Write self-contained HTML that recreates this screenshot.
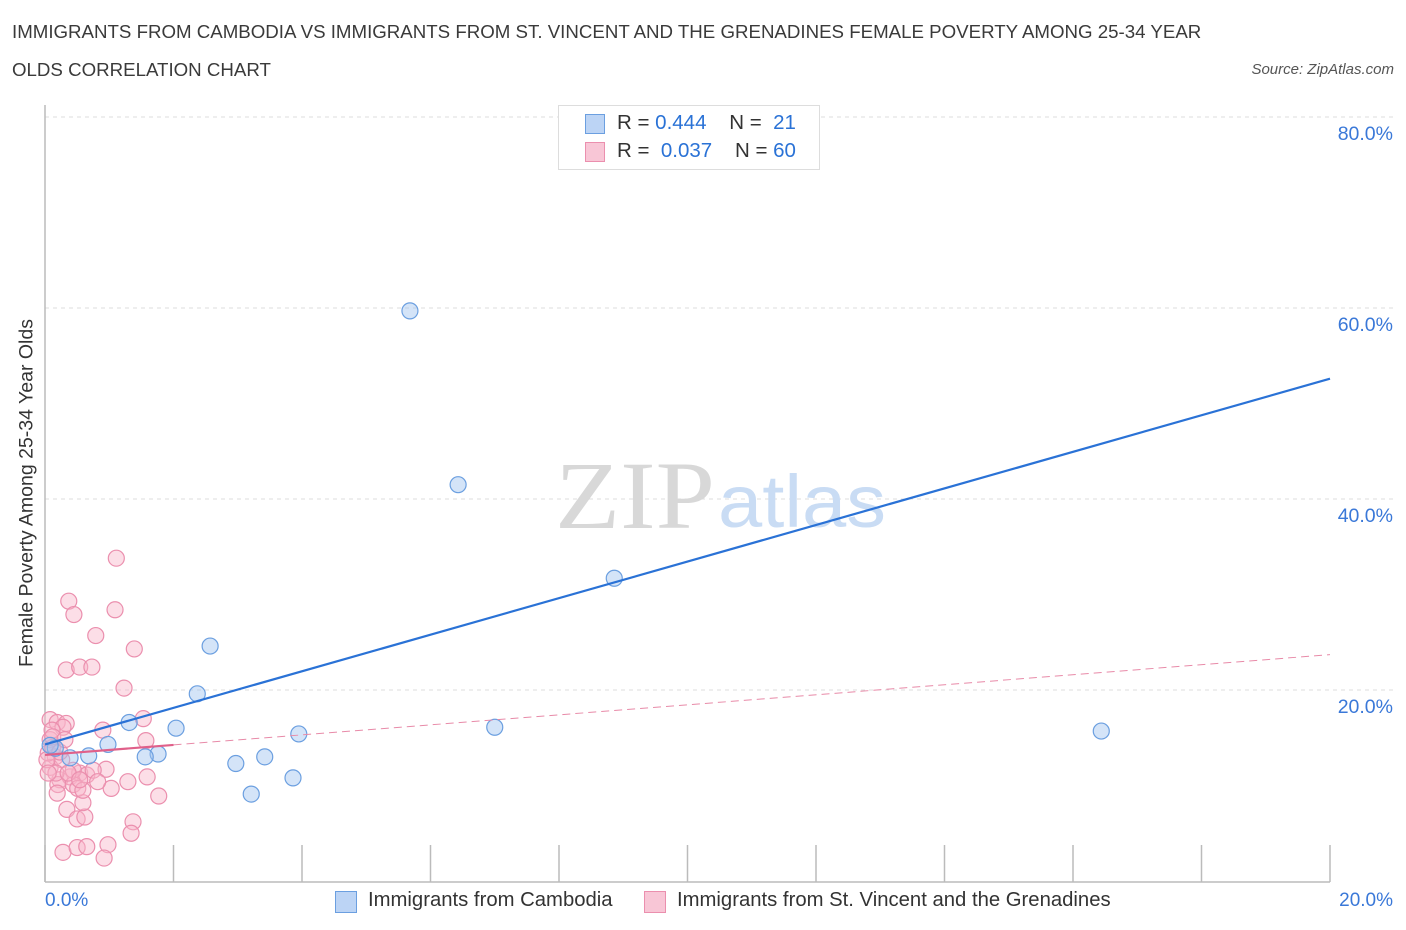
<!DOCTYPE html>
<html><head><meta charset="utf-8"><style>
body{margin:0;background:#fff;font-family:"Liberation Sans",sans-serif;}
.t{position:absolute;color:#3a3a3a;font-size:18.7px;white-space:nowrap;}
</style></head><body>
<div style="position:relative;width:1406px;height:930px;overflow:hidden">
<div class="t" style="left:12px;top:21px">IMMIGRANTS FROM CAMBODIA VS IMMIGRANTS FROM ST. VINCENT AND THE GRENADINES FEMALE POVERTY AMONG 25-34 YEAR</div>
<div class="t" style="left:12px;top:59px">OLDS CORRELATION CHART</div>
<div style="position:absolute;right:12px;top:61px;font-size:15px;font-style:italic;color:#555">Source: ZipAtlas.com</div>
<svg id="plot" width="1406" height="930" style="position:absolute;left:0;top:0"></svg>
</div>
<script>
const cambodiaX=[5.68,6.43,8.86,2.57,2.37,1.31,2.04,3.95,7.00,16.44,0.98,0.68,1.76,1.56,0.39,2.97,3.42,3.86,3.21,0.16,0.08];
const cambodiaY=[59.7,41.5,31.7,24.6,19.6,16.6,16.0,15.4,16.1,15.7,14.3,13.1,13.3,13.0,12.9,12.3,13.0,10.8,9.1,13.9,14.2];
const vincentX=[1.11,0.37,0.45,1.09,0.79,1.39,0.33,0.54,0.73,1.23,1.53,0.90,1.57,0.95,1.29,1.03,1.59,1.77,0.34,0.50,0.62,0.59,1.37,1.34,0.98,0.92,0.28,0.50,0.65,0.08,0.19,0.33,0.23,0.39,0.54,0.65,0.20,0.44,0.51,0.59,0.08,0.16,0.08,0.26,0.05,0.12,0.23,0.03,0.28,0.11,0.75,0.44,0.19,0.82,0.17,0.36,0.05,0.54,0.12,0.31];
const vincentY=[33.8,29.3,27.9,28.4,25.7,24.3,22.1,22.4,22.4,20.2,17.0,15.8,14.7,11.7,10.4,9.7,10.9,8.9,7.5,6.5,6.7,8.2,6.2,5.0,3.8,2.4,3.0,3.5,3.6,16.9,16.6,16.5,10.6,10.9,11.3,11.1,10.1,10.1,9.7,9.5,14.8,13.0,11.9,12.7,13.4,14.0,13.5,12.7,16.1,15.8,11.6,11.6,9.2,10.4,11.3,11.3,11.3,10.6,15.1,14.8];
const cambodiaTrend=[14.3,52.6];
const vincentTrend=[13.2,23.7];
const yTicks=[20,40,60,80];
const yTickLabels=["20.0%","40.0%","60.0%","80.0%"];
const NS="http://www.w3.org/2000/svg";
const svg=document.getElementById('plot');
const X0=45,X1=1330,Y0=881;
const sx=v=>X0+v*(X1-X0)/20;
const sy=v=>Y0-v*9.55;
function mk(tag,attrs,parent){const e=document.createElementNS(NS,tag);for(const k in attrs)e.setAttribute(k,attrs[k]);(parent||svg).appendChild(e);return e;}
yTicks.forEach((t,i)=>{
 const g=mk('line',{x1:X0,x2:1395,y1:sy(t),y2:sy(t),stroke:'#ddd','stroke-dasharray':'4,4'});
 
 
 const l=mk('text',{x:1393,y:sy(t)+23,'text-anchor':'end','font-size':19.5,fill:'#3a78d8','font-family':'Liberation Sans'});
 l.textContent=yTickLabels[i];
 
 
});
const w1=mk('text',{x:555,y:528,'font-size':96,fill:'#d8d8d8','font-family':'Liberation Serif',textLength:160,lengthAdjust:'spacingAndGlyphs'});w1.textContent='ZIP';


const w2=mk('text',{x:718,y:527,'font-size':74,fill:'#c9dcf4','font-family':'Liberation Sans',textLength:168,lengthAdjust:'spacingAndGlyphs'});w2.textContent='atlas';


const ax=mk('line',{x1:X0,x2:X1,y1:882,y2:882,stroke:'#bbb','stroke-width':1.5});


const ay=mk('line',{x1:X0,x2:X0,y1:105,y2:882,stroke:'#bbb','stroke-width':1.5});


for(let i=0;i<=10;i++){const tk=mk('line',{x1:sx(i*2),x2:sx(i*2),y1:845,y2:882,stroke:'#bbb','stroke-width':1.5});

}
function pts(xs,ys,fill,stroke,name){xs.forEach((x,i)=>{const c=mk('circle',{cx:sx(x),cy:sy(ys[i]),r:8,fill:fill,stroke:stroke,'stroke-width':1.2});

});}
pts(vincentX,vincentY,'rgba(248,182,202,0.45)','#eb8fae','point-st-vincent');
pts(cambodiaX,cambodiaY,'rgba(160,196,240,0.45)','#6b9fe0','point-cambodia');
const tb=mk('line',{x1:sx(0),y1:sy(cambodiaTrend[0]),x2:sx(20),y2:sy(cambodiaTrend[1]),stroke:'#2a72d6','stroke-width':2.2});


const vy=x=>vincentTrend[0]+(vincentTrend[1]-vincentTrend[0])*x/20;
const tp=mk('line',{x1:sx(0),y1:sy(vy(0)),x2:sx(2),y2:sy(vy(2)),stroke:'#e0608a','stroke-width':2.2});


const tpd=mk('line',{x1:sx(2),y1:sy(vy(2)),x2:sx(20),y2:sy(vy(20)),stroke:'#e88aa8','stroke-width':1,'stroke-dasharray':'8,5'});


</script>
<div style="position:absolute;left:45px;top:890px;font-size:19px;color:#3a78d8">0.0%</div>
<div style="position:absolute;right:13px;top:890px;font-size:19px;color:#3a78d8">20.0%</div>
<div style="position:absolute;left:27px;top:493px;transform:translate(-50%,-50%) rotate(-90deg);white-space:nowrap;font-size:19.5px;color:#333">Female Poverty Among 25-34 Year Olds</div>
<div style="position:absolute;left:558px;top:105px;width:260px;height:63px;border:1px solid #ddd;background:#fff;font-size:20.5px;color:#333">
 <div style="position:absolute;left:26px;top:8px;width:18px;height:18px;background:#bcd4f5;border:1px solid #6b9fe0"></div>
 <div style="position:absolute;left:58px;top:5px;white-space:pre">R = <span style="color:#2a72d6">0.444</span>    N =  <span style="color:#2a72d6">21</span></div>
 <div style="position:absolute;left:26px;top:36px;width:18px;height:18px;background:#f8c6d6;border:1px solid #eb8fae"></div>
 <div style="position:absolute;left:58px;top:33px;white-space:pre">R =  <span style="color:#2a72d6">0.037</span>    N = <span style="color:#2a72d6">60</span></div>
</div>
<div style="position:absolute;left:335px;top:891px;width:20px;height:20px;background:#bcd4f5;border:1px solid #6b9fe0"></div>
<div style="position:absolute;left:368px;top:889px;font-size:20.3px;color:#333;white-space:nowrap">Immigrants from Cambodia</div>
<div style="position:absolute;left:644px;top:891px;width:20px;height:20px;background:#f8c6d6;border:1px solid #eb8fae"></div>
<div style="position:absolute;left:677px;top:889px;font-size:20.3px;color:#333;white-space:nowrap">Immigrants from St. Vincent and the Grenadines</div>
</body></html>
